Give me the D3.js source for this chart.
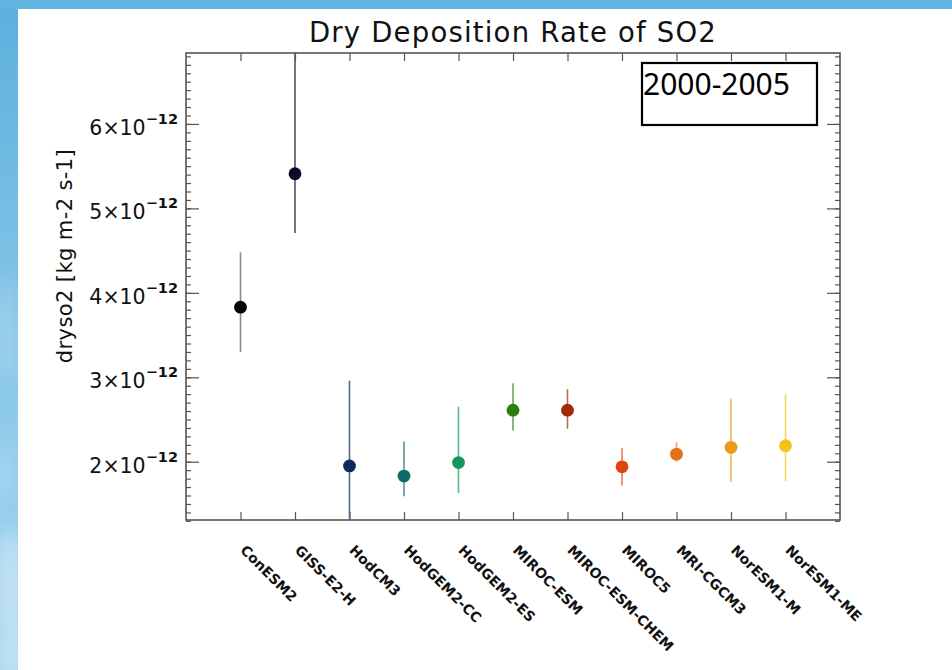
<!DOCTYPE html>
<html>
<head>
<meta charset="utf-8">
<script src="https://cdn.jsdelivr.net/npm/d3@7"></script>
<style>
  html, body { margin: 0; padding: 0; background: #ffffff; }
  svg { display: block; }
</style>
</head>
<body>
<svg id="chart" width="952" height="670"></svg>
<script>
// Model names along the x axis
const models = ["ConESM2", "GISS-E2-H", "HodCM3", "HodGEM2-CC", "HodGEM2-ES",
  "MIROC-ESM", "MIROC-ESM-CHEM", "MIROC5", "MRI-CGCM3", "NorESM1-M", "NorESM1-ME"];
// Mean dry deposition rate (units of 1e-12 kg m-2 s-1)
const means = [3.83, 5.41, 1.95, 1.83, 1.99, 2.61, 2.61, 1.94, 2.09, 2.17, 2.19];
// Lower and upper ends of the spread bars (units of 1e-12)
const lows  = [3.30, 4.71, 0.94, 1.59, 1.63, 2.37, 2.39, 1.72, 2.00, 1.76, 1.77];
const highs = [4.48, 7.10, 2.96, 2.24, 2.65, 2.93, 2.86, 2.16, 2.23, 2.75, 2.80];
// Marker colours per model
const colors = ["#050505", "#0a0a26", "#0d2a5e", "#0e6a6a", "#17965e",
  "#2f7d0e", "#a3290a", "#dd4510", "#e4721a", "#eb9a18", "#f2c418"];
// Major y ticks (units of 1e-12)
const yTicks = [2, 3, 4, 5, 6];
const yExponent = "-12";
const titleText = "Dry Deposition Rate of SO2";
const yLabelText = "dryso2 [kg m-2 s-1]";
const periodText = "2000-2005";

const svg = d3.select("#chart");
const W = 952, H = 670;
const plot = { left: 186, right: 840, top: 53, bottom: 520 };

// ---------- slide background ----------
const defs = svg.append("defs");
const sideGrad = defs.append("linearGradient")
  .attr("id", "sideGrad").attr("x1", 0).attr("y1", 0).attr("x2", 0).attr("y2", 1);
sideGrad.append("stop").attr("offset", "0%").attr("stop-color", "#5cb0dd");
sideGrad.append("stop").attr("offset", "55%").attr("stop-color", "#8ac8e9");
sideGrad.append("stop").attr("offset", "100%").attr("stop-color", "#a6d5ef");
defs.append("filter").attr("id", "cloudBlur")
  .append("feGaussianBlur").attr("stdDeviation", 8);
defs.append("clipPath").attr("id", "stripClip")
  .append("rect").attr("x", 0).attr("y", 0).attr("width", 18).attr("height", H);

svg.append("rect").attr("x", 0).attr("y", 0).attr("width", W).attr("height", H)
  .attr("fill", "url(#sideGrad)");
svg.append("rect").attr("x", 0).attr("y", 0).attr("width", W).attr("height", 9)
  .attr("fill", "#62b5df");
const clouds = svg.append("g").attr("clip-path", "url(#stripClip)")
  .attr("filter", "url(#cloudBlur)");
[[6, 330, 10, 50, 0.18], [4, 470, 10, 30, 0.15], [10, 580, 14, 50, 0.35], [12, 650, 14, 30, 0.3]].forEach(c => {
  clouds.append("ellipse").attr("cx", c[0]).attr("cy", c[1])
    .attr("rx", c[2]).attr("ry", c[3]).attr("fill", "#ffffff").attr("opacity", c[4]);
});
svg.append("rect").attr("x", 18).attr("y", 9).attr("width", W - 18).attr("height", H - 9)
  .attr("fill", "#ffffff");

// ---------- scales ----------
const x = d3.scaleLinear().domain([0, models.length + 1]).range([plot.left, plot.right]);
const y = d3.scaleLinear().domain([1.31, 6.84]).range([plot.bottom, plot.top]);

const axisColor = "#555555";
const minorTicks = d3.range(13, 69).map(v => v / 10);
const catTicks = d3.range(1, models.length + 1);

// minor y ticks, left and right
svg.append("g").attr("transform", `translate(${plot.left},0)`)
  .call(d3.axisRight(y).tickValues(minorTicks).tickSize(5).tickFormat(""))
  .call(g => g.select(".domain").remove());
svg.append("g").attr("transform", `translate(${plot.right},0)`)
  .call(d3.axisLeft(y).tickValues(minorTicks).tickSize(5).tickFormat(""))
  .call(g => g.select(".domain").remove());
// major y ticks, left and right
svg.append("g").attr("transform", `translate(${plot.left},0)`)
  .call(d3.axisRight(y).tickValues(yTicks).tickSize(13).tickFormat(""))
  .call(g => g.select(".domain").remove());
svg.append("g").attr("transform", `translate(${plot.right},0)`)
  .call(d3.axisLeft(y).tickValues(yTicks).tickSize(13).tickFormat(""))
  .call(g => g.select(".domain").remove());
// category ticks, bottom and top
svg.append("g").attr("transform", `translate(0,${plot.bottom})`)
  .call(d3.axisTop(x).tickValues(catTicks).tickSize(8).tickFormat(""))
  .call(g => g.select(".domain").remove());
svg.append("g").attr("transform", `translate(0,${plot.top})`)
  .call(d3.axisBottom(x).tickValues(catTicks).tickSize(8).tickFormat(""))
  .call(g => g.select(".domain").remove());
svg.selectAll(".tick line").attr("stroke", axisColor).attr("stroke-width", 1.2);

// plot frame
svg.append("rect")
  .attr("x", plot.left).attr("y", plot.top)
  .attr("width", plot.right - plot.left).attr("height", plot.bottom - plot.top)
  .attr("fill", "none").attr("stroke", axisColor).attr("stroke-width", 1.6);

// y tick labels: N×10^-12
const yLab = svg.append("g")
  .attr("font-family", "DejaVu Sans, sans-serif").attr("fill", "#111");
yTicks.forEach(t => {
  const txt = yLab.append("text")
    .attr("x", plot.left - 8).attr("y", y(t) + 11)
    .attr("text-anchor", "end").attr("font-size", 20.5);
  txt.append("tspan").text(t + "×10");
  txt.append("tspan").attr("dy", -11).attr("font-size", 14.5).attr("font-weight", "bold")
    .text("\u2212" + yExponent.replace("-", ""));
});

// x tick labels, rotated
svg.append("g").selectAll("text").data(models).join("text")
  .attr("transform", (d, i) => `translate(${x(i + 1) - 1},${plot.bottom + 31}) rotate(45)`)
  .attr("font-family", "DejaVu Sans, sans-serif")
  .attr("font-size", 14).attr("font-weight", "bold").attr("fill", "#111")
  .text(d => d);

// title
svg.append("text")
  .attr("x", (plot.left + plot.right) / 2).attr("y", 42)
  .attr("text-anchor", "middle")
  .attr("font-family", "DejaVu Sans, sans-serif").attr("font-size", 27.5)
  .attr("letter-spacing", 1.2)
  .attr("fill", "#111").text(titleText);

// y axis title
svg.append("text")
  .attr("transform", `translate(72,256) rotate(-90)`)
  .attr("text-anchor", "middle")
  .attr("font-family", "DejaVu Sans, sans-serif").attr("font-size", 21)
  .attr("letter-spacing", 0.4)
  .attr("fill", "#111").text(yLabelText);

// ---------- data marks ----------
defs.append("clipPath").attr("id", "plotClip")
  .append("rect").attr("x", plot.left).attr("y", plot.top)
  .attr("width", plot.right - plot.left).attr("height", plot.bottom - plot.top);

const marks = svg.append("g").attr("clip-path", "url(#plotClip)");
const barColor = c => d3.interpolateRgb(c, "#ffffff")(0.3);

marks.selectAll("line.spread").data(models).join("line")
  .attr("class", "spread")
  .attr("x1", (d, i) => x(i + 1)).attr("x2", (d, i) => x(i + 1))
  .attr("y1", (d, i) => y(lows[i])).attr("y2", (d, i) => y(highs[i]))
  .attr("stroke", (d, i) => i === 0 ? "#8a8a8a" : barColor(colors[i]))
  .attr("stroke-width", 1.6);

marks.selectAll("circle").data(models).join("circle")
  .attr("cx", (d, i) => x(i + 1)).attr("cy", (d, i) => y(means[i]))
  .attr("r", 6.4)
  .attr("fill", (d, i) => colors[i]);

// period box
svg.append("rect")
  .attr("x", 642).attr("y", 63).attr("width", 175).attr("height", 62)
  .attr("fill", "#ffffff").attr("stroke", "#000").attr("stroke-width", 2.2);
svg.append("text")
  .attr("x", 643).attr("y", 95)
  .attr("font-family", "Noto Sans, Open Sans, sans-serif").attr("font-size", 30)
  .attr("fill", "#000").text(periodText);
</script>
</body>
</html>
